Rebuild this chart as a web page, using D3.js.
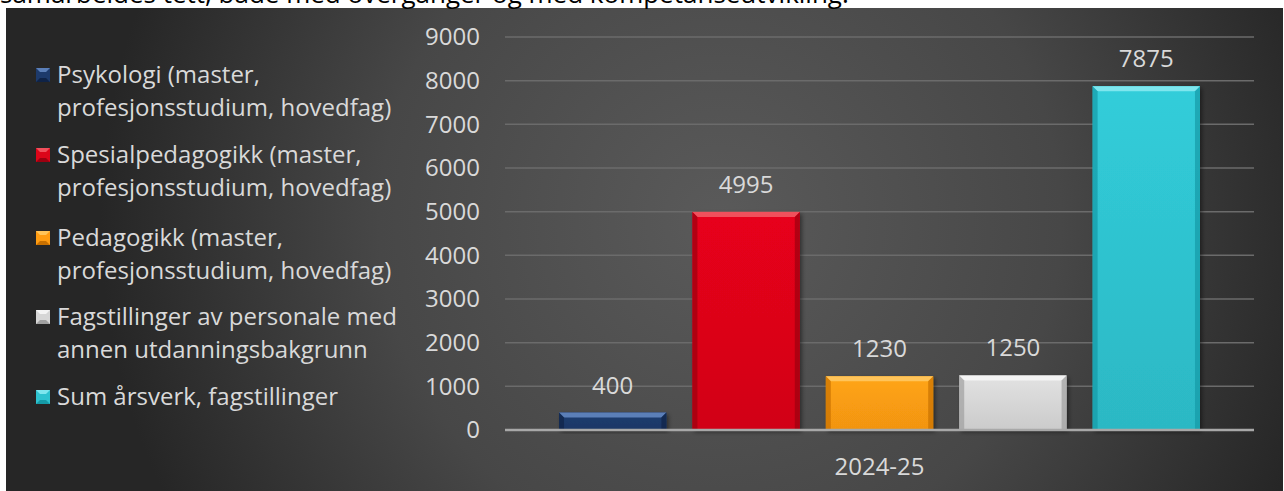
<!DOCTYPE html>
<html lang="no">
<head>
<meta charset="UTF-8">
<title>Årsverk fagstillinger 2024-25</title>
<script src="https://cdnjs.cloudflare.com/ajax/libs/d3/7.8.5/d3.min.js"></script>
<style>
    html, body { margin: 0; padding: 0; background: #fff; }
    svg { display: block; font-family: "Open Sans", sans-serif; }
</style>
</head>
<body>
<div id="chart"></div>
<script>
    // Data
    const categories = ["2024-25"];
    const series = [
        "Psykologi (master, profesjonsstudium, hovedfag)",
        "Spesialpedagogikk (master, profesjonsstudium, hovedfag)",
        "Pedagogikk (master, profesjonsstudium, hovedfag)",
        "Fagstillinger av personale med annen utdanningsbakgrunn",
        "Sum årsverk, fagstillinger"
    ];
    const legendLines = [
        ["Psykologi (master,", "profesjonsstudium, hovedfag)"],
        ["Spesialpedagogikk (master,", "profesjonsstudium, hovedfag)"],
        ["Pedagogikk (master,", "profesjonsstudium, hovedfag)"],
        ["Fagstillinger av personale med", "annen utdanningsbakgrunn"],
        ["Sum årsverk, fagstillinger"]
    ];
    const values = [400, 4995, 1230, 1250, 7875];
    const yTicks = [0, 1000, 2000, 3000, 4000, 5000, 6000, 7000, 8000, 9000];
    const topText = "samarbeides tett, både med overganger og med kompetanseutvikling.";

    // colours: [base, light, dark]
    const colors = [
        ["#1d3a6b", "#5b7fb8", "#0f2347"],
        ["#dc0519", "#f0505c", "#9c0010"],
        ["#ff9c12", "#ffc45a", "#c87000"],
        ["#d6d6d6", "#f4f4f4", "#a0a0a0"],
        ["#2ec2cf", "#7ee6ee", "#159aa6"]
    ];

    const width = 1284, height = 491;
    const svg = d3.select("#chart").append("svg")
        .attr("width", width)
        .attr("height", height);

    const defs = svg.append("defs");

    // background radial gradient
    const bg = defs.append("radialGradient")
        .attr("id", "bg")
        .attr("gradientUnits", "userSpaceOnUse")
        .attr("cx", 720).attr("cy", 220).attr("r", 620);
    bg.append("stop").attr("offset", "0%").attr("stop-color", "#5a5a5a");
    bg.append("stop").attr("offset", "55%").attr("stop-color", "#474747");
    bg.append("stop").attr("offset", "100%").attr("stop-color", "#262626");

    colors.forEach((c, i) => {
        const g = defs.append("linearGradient")
            .attr("id", "bar" + i)
            .attr("x1", 0).attr("y1", 0).attr("x2", 0).attr("y2", 1);
        g.append("stop").attr("offset", "0%").attr("stop-color", d3.color(c[0]).brighter(0.15));
        g.append("stop").attr("offset", "100%").attr("stop-color", d3.color(c[0]).darker(0.15));
    });

    const shadow = defs.append("filter").attr("id", "shadow")
        .attr("x", "-10%").attr("y", "-10%").attr("width", "130%").attr("height", "130%");
    shadow.append("feDropShadow")
        .attr("dx", 2).attr("dy", 2).attr("stdDeviation", 2)
        .attr("flood-color", "#000").attr("flood-opacity", 0.45);

    svg.append("rect")
        .attr("x", 6).attr("y", 8)
        .attr("width", 1277).attr("height", 483)
        .attr("fill", "url(#bg)");

    // cut-off text line above the chart
    svg.append("text")
        .attr("x", 0).attr("y", 3)
        .attr("font-size", 26)
        .attr("fill", "#000")
        .text(topText);

    // scales
    const x0 = d3.scaleBand().domain(categories).range([505, 1254]);
    const x1 = d3.scaleBand().domain(series)
        .range([0, x0.bandwidth()])
        .paddingInner(0.195).paddingOuter(0.405);
    const y = d3.scaleLinear().domain([0, 9000]).range([430, 37]);

    // gridlines
    svg.append("g")
        .selectAll("line")
        .data(yTicks.filter(d => d > 0))
        .join("line")
        .attr("x1", 505).attr("x2", 1254)
        .attr("y1", d => y(d)).attr("y2", d => y(d))
        .attr("stroke", "#6b6b6b")
        .attr("stroke-width", 1.5);

    // y axis
    const yAxis = svg.append("g")
        .attr("transform", "translate(505,0)")
        .call(d3.axisLeft(y).tickValues(yTicks).tickFormat(d3.format("d")).tickSize(0).tickPadding(25));
    yAxis.select(".domain").remove();
    yAxis.selectAll("text")
        .attr("fill", "#d9d9d9")
        .attr("font-size", 24)
        .attr("font-family", "Open Sans, sans-serif");

    // bars
    const bev = 5;
    const bars = svg.append("g")
        .selectAll("g")
        .data(series.map((s, i) => ({ s, v: values[i], i })))
        .join("g")
        .attr("transform", d => `translate(${x0(categories[0]) + x1(d.s)},0)`);

    const bw = x1.bandwidth();
    bars.append("rect")
        .attr("x", 0)
        .attr("y", d => y(d.v))
        .attr("width", bw)
        .attr("height", d => y(0) - y(d.v))
        .attr("fill", d => `url(#bar${d.i})`)
        .attr("filter", "url(#shadow)");

    // top bevel
    bars.append("path")
        .attr("d", d => {
            const t = y(d.v);
            return `M0,${t}L${bw},${t}L${bw - bev},${t + bev}L${bev},${t + bev}Z`;
        })
        .attr("fill", d => colors[d.i][1]);
    // side bevels
    bars.append("path")
        .attr("d", d => {
            const t = y(d.v), b = y(0);
            return `M0,${t}L${bev},${t + bev}L${bev},${b}L0,${b}Z`;
        })
        .attr("fill", d => colors[d.i][2])
        .attr("opacity", 0.7);
    bars.append("path")
        .attr("d", d => {
            const t = y(d.v), b = y(0);
            return `M${bw},${t}L${bw - bev},${t + bev}L${bw - bev},${b}L${bw},${b}Z`;
        })
        .attr("fill", d => colors[d.i][2])
        .attr("opacity", 0.7);

    // value labels
    bars.append("text")
        .attr("x", bw / 2)
        .attr("y", d => y(d.v) - 19)
        .attr("text-anchor", "middle")
        .attr("font-size", 24)
        .attr("fill", "#d9d9d9")
        .text(d => d.v);

    // zero line
    svg.append("line")
        .attr("x1", 505).attr("x2", 1254)
        .attr("y1", y(0)).attr("y2", y(0))
        .attr("stroke", "#a8a8a8")
        .attr("stroke-width", 2.5);

    // category label
    svg.append("text")
        .attr("x", x0(categories[0]) + x0.bandwidth() / 2)
        .attr("y", 475)
        .attr("text-anchor", "middle")
        .attr("font-size", 24)
        .attr("fill", "#d9d9d9")
        .text(categories[0]);

    // legend
    const legendY = [75, 155, 238, 317, 397];
    const legend = svg.append("g")
        .selectAll("g")
        .data(legendLines)
        .join("g")
        .attr("transform", (d, i) => `translate(36,${legendY[i]})`);

    const m = 14, mb = 4;
    legend.append("rect")
        .attr("x", 0).attr("y", -7)
        .attr("width", m).attr("height", m)
        .attr("fill", (d, i) => colors[i][0]);
    legend.append("path")
        .attr("d", `M0,-7L${m},-7L${m - mb},${-7 + mb}L${mb},${-7 + mb}Z`)
        .attr("fill", (d, i) => colors[i][1]);
    legend.append("path")
        .attr("d", `M0,7L${m},7L${m - mb},${7 - mb}L${mb},${7 - mb}Z`)
        .attr("fill", (d, i) => colors[i][2]);

    legend.append("text")
        .attr("x", 21)
        .attr("y", 0)
        .attr("font-size", 24)
        .attr("fill", "#d9d9d9")
        .selectAll("tspan")
        .data(d => d)
        .join("tspan")
        .attr("x", 21)
        .attr("dy", (d, i) => i === 0 ? "0.35em" : 33)
        .text(d => d);
</script>
</body>
</html>
